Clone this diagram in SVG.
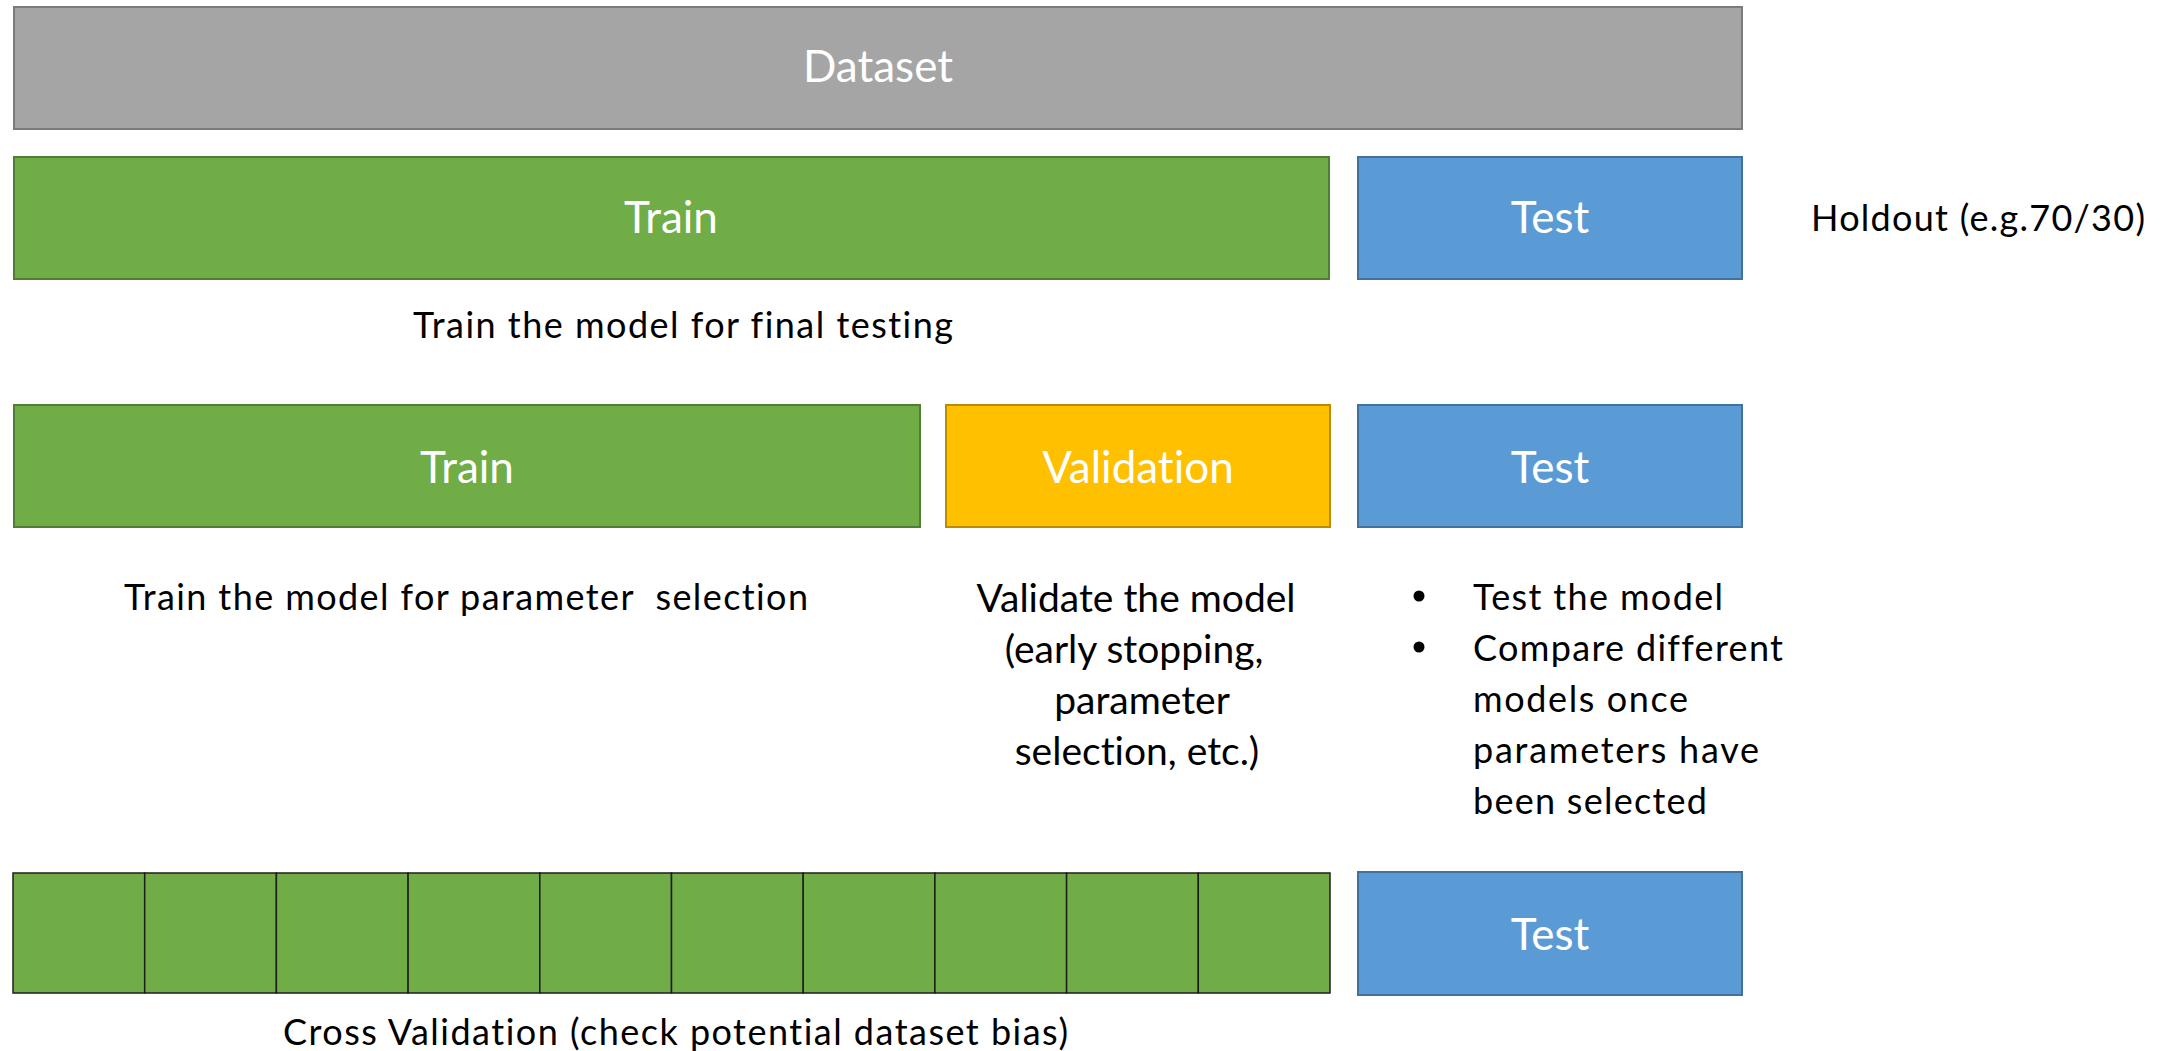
<svg xmlns="http://www.w3.org/2000/svg" width="2166" height="1051" viewBox="0 0 2166 1051">
<style>
.gray{fill:#a5a5a5;stroke:#7b7b7b;stroke-width:2}
.green{fill:#70ad47;stroke:#507e32;stroke-width:2}
.blue{fill:#5b9bd5;stroke:#41719c;stroke-width:2}
.yellow{fill:#ffc000;stroke:#bc8c00;stroke-width:2}
.cv{fill:#70ad47;stroke:#1e1e1e;stroke-width:1.5}
text{font-variant-ligatures:none}
.lbl{font-family:Lato,"Liberation Sans",sans-serif;font-size:44px;fill:#ffffff;text-anchor:middle}
.txt{font-family:Lato,"Liberation Sans",sans-serif;font-size:36px;fill:#000000}
.big{font-size:39px}
.mid{text-anchor:middle}
</style>
<rect width="2166" height="1051" fill="#ffffff"/>
<g id="dataset">
<rect class="gray" x="14" y="7" width="1728" height="122"/>
<text class="lbl" x="878" y="82">Dataset</text>
</g>
<g id="train-holdout">
<rect class="green" x="14" y="157" width="1315" height="122"/>
<text class="lbl" x="671" y="233">Train</text>
</g>
<g id="test-holdout">
<rect class="blue" x="1358" y="157" width="384" height="122"/>
<text class="lbl" x="1550" y="233">Test</text>
</g>
<g id="holdout-label">
<text class="txt" x="1811" y="231" textLength="334">Holdout (e.g.70/30)</text>
</g>
<g id="train-final-label">
<text class="txt" x="413" y="338" textLength="540">Train the model for final testing</text>
</g>
<g id="train-param">
<rect class="green" x="14" y="405" width="906" height="122"/>
<text class="lbl" x="467" y="483">Train</text>
</g>
<g id="validation">
<rect class="yellow" x="946" y="405" width="384" height="122"/>
<text class="lbl" x="1138" y="483">Validation</text>
</g>
<g id="test-param">
<rect class="blue" x="1358" y="405" width="384" height="122"/>
<text class="lbl" x="1550" y="483">Test</text>
</g>
<g id="train-param-label">
<text class="txt" x="124" y="610" textLength="684" xml:space="preserve">Train the model for parameter  selection</text>
</g>
<g id="validation-label">
<text class="txt big mid" x="1136" y="612">Validate the model</text>
<text class="txt big mid" x="1134" y="663">(early stopping,</text>
<text class="txt big mid" x="1142" y="714">parameter</text>
<text class="txt big mid" x="1137" y="765">selection, etc.)</text>
</g>
<g id="test-label">
<circle cx="1419" cy="596" r="5.5" fill="#000"/>
<circle cx="1419" cy="647" r="5.5" fill="#000"/>
<text class="txt" x="1473" y="610" textLength="250">Test the model</text>
<text class="txt" x="1473" y="661" textLength="310">Compare different</text>
<text class="txt" x="1473" y="712" textLength="215">models once</text>
<text class="txt" x="1473" y="763" textLength="286">parameters have</text>
<text class="txt" x="1473" y="814" textLength="234">been selected</text>
</g>
<g id="cross-validation">
<rect class="cv" x="13" y="873" width="131.7" height="120"/>
<rect class="cv" x="144.7" y="873" width="131.7" height="120"/>
<rect class="cv" x="276.4" y="873" width="131.7" height="120"/>
<rect class="cv" x="408.1" y="873" width="131.7" height="120"/>
<rect class="cv" x="539.8" y="873" width="131.7" height="120"/>
<rect class="cv" x="671.5" y="873" width="131.7" height="120"/>
<rect class="cv" x="803.2" y="873" width="131.7" height="120"/>
<rect class="cv" x="934.9" y="873" width="131.7" height="120"/>
<rect class="cv" x="1066.6" y="873" width="131.7" height="120"/>
<rect class="cv" x="1198.3" y="873" width="131.7" height="120"/>
</g>
<g id="test-cv">
<rect class="blue" x="1358" y="872" width="384" height="123"/>
<text class="lbl" x="1550" y="950">Test</text>
</g>
<g id="cv-label">
<text class="txt" x="283" y="1045" textLength="785">Cross Validation (check potential dataset bias)</text>
</g>
<g id="connectors"></g>
</svg>
